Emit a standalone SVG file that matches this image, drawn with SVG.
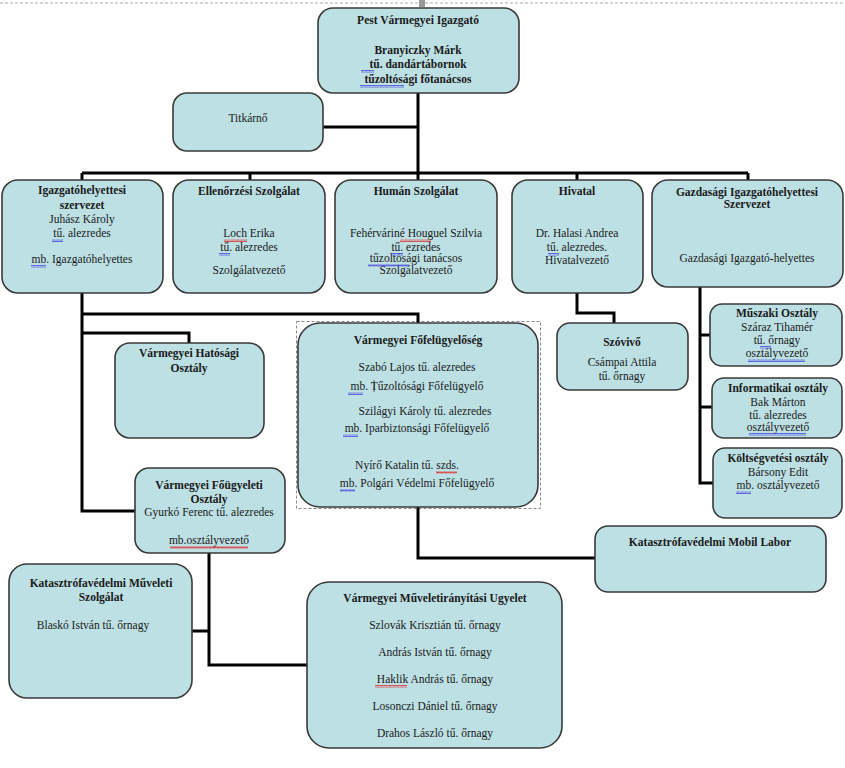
<svg xmlns="http://www.w3.org/2000/svg" width="845" height="768" viewBox="0 0 845 768">
<defs>
<style>
.box{fill:#bde0e4;stroke:#3a3a3a;stroke-width:1.6}
.c{fill:none;stroke:#000;stroke-width:3}
text{font-family:"Liberation Serif","Times New Roman",serif;font-size:11.5px;fill:#1a1a1a;text-anchor:middle}
.b{font-weight:bold}
.wb{fill:url(#wavB)}
.wr{fill:url(#wavR)}
</style>
<pattern id="wavB" width="4" height="3" patternUnits="userSpaceOnUse"><path d="M0,2.5 L1,0.5 L2,2.5 L3,0.5 L4,2.5" fill="none" stroke="#4a4ae0" stroke-width="0.8"/></pattern>
<pattern id="wavR" width="4" height="3" patternUnits="userSpaceOnUse"><path d="M0,2.5 L1,0.5 L2,2.5 L3,0.5 L4,2.5" fill="none" stroke="#e03030" stroke-width="0.8"/></pattern>
</defs>
<rect width="845" height="768" fill="#fff"/>
<line x1="0" y1="3" x2="845" y2="3" stroke="#aaa" stroke-width="1" stroke-dasharray="3,2"/>
<rect x="419" y="0" width="6" height="7" fill="#999"/>
<rect x="296.5" y="321.5" width="244" height="187" fill="none" stroke="#888" stroke-width="1" stroke-dasharray="3,2"/>

<g id="connectors">
<path class="c" d="M418,92 V173"/>
<path class="c" d="M322,127 H418"/>
<path class="c" d="M82,173 H748"/>
<path class="c" d="M82,173 V181 M250,173 V181 M418,173 V181 M577,173 V181 M748,173 V181"/>
<path class="c" d="M82,293 V511 H135"/>
<path class="c" d="M82,314 H418 V323"/>
<path class="c" d="M82,333 H189 V343"/>
<path class="c" d="M418,507 V558 H596"/>
<path class="c" d="M577,293 V313 H614 V323"/>
<path class="c" d="M700,287 V483 H713 M700,335 H710 M700,407 H712"/>
<path class="c" d="M209,553 V665 H308 M192,631 H209"/>
</g>

<g id="igazgato">
<rect class="box" x="318" y="8" width="201" height="85" rx="15"/>
<text class="b" x="418" y="24" font-size="12.5">Pest Vármegyei Igazgató</text>
<text class="b" x="418" y="54" font-size="12.5">Branyiczky Márk</text>
<text class="b" x="418" y="68" font-size="12.5">tű. dandártábornok</text>
<text class="b" x="418" y="83" font-size="12.5">tűzoltósági főtanácsos</text>
<rect class="wb" x="361" y="70" width="13" height="3"/>
<rect class="wb" x="360" y="85" width="44" height="3"/>
</g>

<g id="titkarno">
<rect class="box" x="173" y="93" width="150" height="58" rx="14"/>
<text x="248" y="122">Titkárnő</text>
</g>

<g id="igh">
<rect class="box" x="2" y="180" width="161" height="113" rx="16"/>
<text class="b" x="82" y="194">Igazgatóhelyettesi</text>
<text class="b" x="82" y="209">szervezet</text>
<text x="82" y="223">Juhász Károly</text>
<text x="82" y="237">tű. alezredes</text>
<text x="82" y="263">mb. Igazgatóhelyettes</text>
<rect class="wb" x="52" y="239" width="11" height="3"/>
<rect class="wb" x="31" y="265" width="15" height="3"/>
</g>

<g id="ellenorzesi">
<rect class="box" x="173" y="180" width="152" height="113" rx="16"/>
<text class="b" x="249" y="195">Ellenőrzési Szolgálat</text>
<text x="249" y="237">Loch Erika</text>
<text x="249" y="251">tű. alezredes</text>
<text x="249" y="274">Szolgálatvezető</text>
<rect class="wr" x="224" y="239" width="23" height="3"/>
<rect class="wb" x="219" y="253" width="11" height="3"/>
</g>

<g id="human">
<rect class="box" x="335" y="180" width="162" height="113" rx="16"/>
<text class="b" x="416" y="195">Humán Szolgálat</text>
<text x="416" y="237">Fehérváriné Houguel Szilvia</text>
<text x="416" y="251">tű. ezredes</text>
<text x="416" y="262">tűzoltósági tanácsos</text>
<text x="416" y="274">Szolgálatvezető</text>
<rect class="wr" x="400" y="239" width="31" height="3"/>
<rect class="wb" x="392" y="253" width="11" height="3"/>
<rect class="wb" x="368" y="264" width="41" height="3"/>
</g>

<g id="hivatal">
<rect class="box" x="512" y="180" width="131" height="113" rx="16"/>
<text class="b" x="577" y="195">Hivatal</text>
<text x="577" y="237">Dr. Halasi Andrea</text>
<text x="577" y="251">tű. alezredes.</text>
<text x="577" y="264">Hivatalvezető</text>
<rect class="wb" x="548" y="253" width="11" height="3"/>
</g>

<g id="gazdasagi">
<rect class="box" x="652" y="180" width="191" height="107" rx="16"/>
<text class="b" x="747" y="196">Gazdasági Igazgatóhelyettesi</text>
<text class="b" x="747" y="208">Szervezet</text>
<text x="747" y="262">Gazdasági Igazgató-helyettes</text>
</g>

<g id="hatosagi">
<rect class="box" x="115" y="343" width="149" height="95" rx="15"/>
<text class="b" x="189" y="357">Vármegyei Hatósági</text>
<text class="b" x="189" y="372">Osztály</text>
</g>

<g id="fofelugyeloseg">
<rect class="box" x="298" y="323" width="240" height="184" rx="22"/>
<text class="b" x="418" y="344">Vármegyei Főfelügyelőség</text>
<text x="417" y="371">Szabó Lajos tű. alezredes</text>
<text x="417" y="390">mb. Tűzoltósági Főfelügyelő</text>
<line x1="374" y1="380" x2="374" y2="392" stroke="#333" stroke-width="0.8"/>
<text x="425" y="415">Szilágyi Károly tű. alezredes</text>
<text x="417" y="432">mb. Iparbiztonsági Főfelügyelő</text>
<text x="407" y="469">Nyírő Katalin tű. szds.</text>
<text x="417" y="487">mb. Polgári Védelmi Főfelügyelő</text>
<rect class="wb" x="348" y="392" width="15" height="3"/>
<rect class="wb" x="343" y="434" width="15" height="3"/>
<rect class="wr" x="436" y="471" width="21" height="3"/>
<rect class="wb" x="340" y="489" width="15" height="3"/>
</g>

<g id="szovivo">
<rect class="box" x="557" y="323" width="131" height="67" rx="13"/>
<text class="b" x="622" y="346">Szóvivő</text>
<text x="622" y="366">Csámpai Attila</text>
<text x="622" y="380">tű. őrnagy</text>
</g>

<g id="muszaki">
<rect class="box" x="710" y="304" width="132" height="62" rx="12"/>
<text class="b" x="777" y="317">Műszaki Osztály</text>
<text x="777" y="331">Száraz Tihamér</text>
<text x="777" y="344">tű. őrnagy</text>
<text x="777" y="357">osztályvezető</text>
<rect class="wb" x="760" y="346" width="11" height="3"/>
<rect class="wb" x="748" y="359" width="57" height="3"/>
</g>

<g id="informatikai">
<rect class="box" x="712" y="378" width="130" height="60" rx="12"/>
<text class="b" x="778" y="392">Informatikai osztály</text>
<text x="778" y="406">Bak Márton</text>
<text x="778" y="419">tű. alezredes</text>
<text x="778" y="431">osztályvezető</text>
<rect class="wb" x="749" y="433" width="57" height="3"/>
</g>

<g id="koltsegvetesi">
<rect class="box" x="713" y="448" width="129" height="70" rx="12"/>
<text class="b" x="778" y="462">Költségvetési osztály</text>
<text x="778" y="476">Bársony Edit</text>
<text x="778" y="489">mb. osztályvezető</text>
<rect class="wb" x="736" y="491" width="15" height="3"/>
</g>

<g id="fougyeleti">
<rect class="box" x="135" y="468" width="150" height="85" rx="14"/>
<text class="b" x="209" y="489">Vármegyei Főügyeleti</text>
<text class="b" x="209" y="503">Osztály</text>
<text x="209" y="516">Gyurkó Ferenc tű. alezredes</text>
<text x="209" y="544">mb.osztályvezető</text>
<rect class="wr" x="170" y="546" width="78" height="3"/>
</g>

<g id="mobil-labor">
<rect class="box" x="595" y="526" width="231" height="66" rx="13"/>
<text class="b" x="710" y="546">Katasztrófavédelmi Mobil Labor</text>
</g>

<g id="muveleti-szolgalat">
<rect class="box" x="9" y="564" width="183" height="134" rx="18"/>
<text class="b" x="101" y="587">Katasztrófavédelmi Műveleti</text>
<text class="b" x="101" y="601">Szolgálat</text>
<text x="93" y="629">Blaskó István tű. őrnagy</text>
</g>

<g id="muveletiranyitasi">
<rect class="box" x="307" y="582" width="255" height="166" rx="22"/>
<text class="b" x="435" y="602">Vármegyei Műveletirányítási Ugyelet</text>
<text x="435" y="629">Szlovák Krisztián tű. őrnagy</text>
<text x="435" y="656">András István tű. őrnagy</text>
<text x="435" y="683">Haklik András tű. őrnagy</text>
<text x="435" y="710">Losonczi Dániel tű. őrnagy</text>
<text x="435" y="737">Drahos László tű. őrnagy</text>
<rect class="wr" x="375" y="685" width="32" height="3"/>
</g>
</svg>
